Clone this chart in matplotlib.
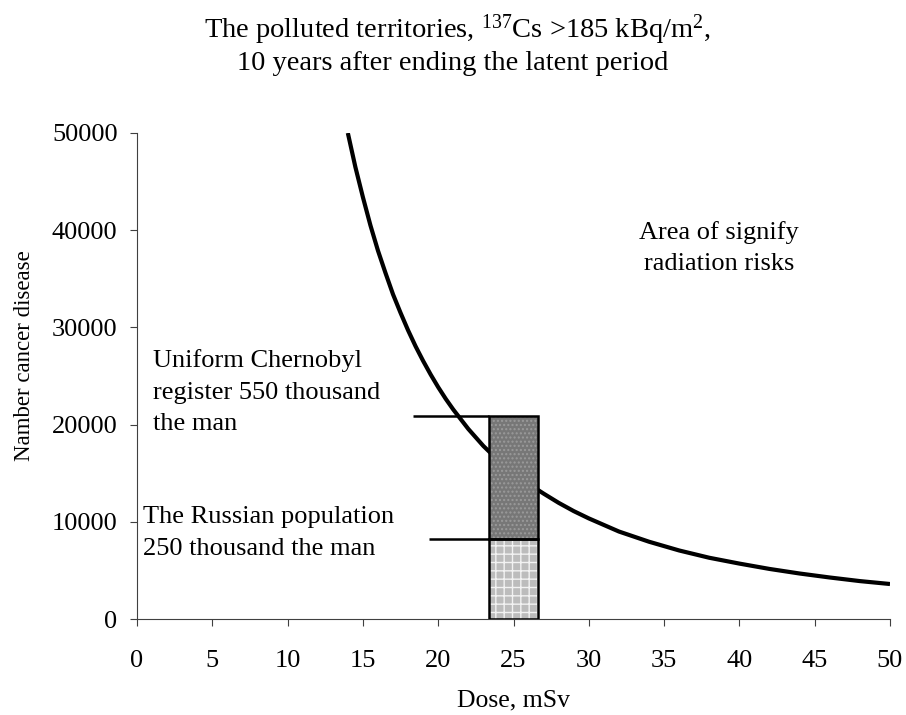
import numpy as np
import matplotlib
matplotlib.use("Agg")
import matplotlib.pyplot as plt

plt.rcParams['font.family'] = ['Liberation Serif', 'DejaVu Serif']
plt.rcParams['mathtext.fontset'] = 'custom'
plt.rcParams['mathtext.rm'] = 'Liberation Serif'
plt.rcParams['mathtext.default'] = 'regular'
plt.rcParams['hatch.linewidth'] = 1.0

# ---- data -------------------------------------------------------------------
curve_dose = [14, 14.5, 15, 15.5, 16, 16.5, 17, 17.5, 18, 18.5, 19, 19.5, 20,
              20.5, 21, 22, 23, 24, 25, 26, 27, 28, 29, 30,
              32, 34, 36, 38, 40, 42, 44, 46, 48, 50]
curve_cases = [50000, 46500, 43400, 40500, 37900, 35600, 33400, 31500, 29700,
               28050, 26550, 25150, 23850, 22650, 21550, 19550,
               17800, 16300, 15000, 13900, 12900, 11950, 11100, 10350,
               9000, 7950, 7050, 6300, 5700, 5150, 4680, 4270, 3900, 3600]

bar_dose = 25
bar_width = 3.2
russian_cases = 8200       # 250 thousand
chernobyl_cases = 20900    # 550 thousand
marker_start = [18.3, 19.4]   # left ends of the two level lines

x_ticks = [0, 5, 10, 15, 20, 25, 30, 35, 40, 45, 50]
y_ticks = [0, 10000, 20000, 30000, 40000, 50000]
# ============================================================================

fig = plt.figure(figsize=(9.06, 7.15), dpi=100)
ax = fig.add_axes([137/906, 1-619/715, (890-137)/906, (619-133)/715])

ax.plot(curve_dose, curve_cases, color='black', lw=3.0, zorder=2,
        solid_capstyle='butt', solid_joinstyle='round')

# stacked bar: lower = Russian population, upper = Chernobyl register
ax.bar(bar_dose, russian_cases, width=bar_width, color='#bcbcbc',
       edgecolor='#f2f2f2', hatch='++', lw=0, zorder=3)
ax.bar(bar_dose, chernobyl_cases - russian_cases, bottom=russian_cases,
       width=bar_width, color='#777777', edgecolor='#9a9a9a', hatch='....',
       lw=0, zorder=3)
ax.bar(bar_dose, russian_cases, width=bar_width, fill=False,
       edgecolor='black', lw=1.8, zorder=4)
ax.bar(bar_dose, chernobyl_cases - russian_cases, bottom=russian_cases,
       width=bar_width, fill=False, edgecolor='black', lw=1.8, zorder=4)

left = bar_dose - bar_width/2
ax.hlines([chernobyl_cases, russian_cases], marker_start, [left, left],
          color='black', lw=1.8, zorder=4)

ax.text(1.07, 23350, "Uniform Chernobyl\nregister 550 thousand\nthe man",
        fontsize=19, ha='left', va='center', linespacing=1.55)
ax.text(0.4, 8850, "The Russian population\n250 thousand the man",
        fontsize=19, ha='left', va='center', linespacing=1.55)
ax.text(38.65, 38170, "Area of signify\nradiation risks",
        fontsize=19, ha='center', va='center', linespacing=1.55)

ax.set_xlim(0, 50)
ax.set_ylim(0, 50000)
ax.set_xticks(x_ticks)
ax.set_yticks(y_ticks)
ax.tick_params(axis='both', direction='out', length=5, width=0.8,
               color='#404040', labelsize=19)
ax.tick_params(axis='x', pad=17)
ax.tick_params(axis='y', pad=9)
for s in ['top', 'right']:
    ax.spines[s].set_visible(False)
for s in ['left', 'bottom']:
    ax.spines[s].set_color('#404040')
    ax.spines[s].set_linewidth(0.8)

ax.set_xlabel("Dose, mSv", fontsize=18.5, va='center')
ax.xaxis.set_label_coords(0.5, (619-700)/486)
ax.set_ylabel("Namber cancer disease", fontsize=16.5, va='center')
ax.yaxis.set_label_coords((25-137)/753, (619-356)/486)

fig.text(457/906, 1-30/715, "The polluted territories, $^{137}$Cs >185 kBq/m$^{2}$,",
         fontsize=20.5, ha='center', va='center')
fig.text(453/906, 1-64/715, "10 years after ending the latent period",
         fontsize=20.5, ha='center', va='center')

fig.savefig("out.png", dpi=100)
